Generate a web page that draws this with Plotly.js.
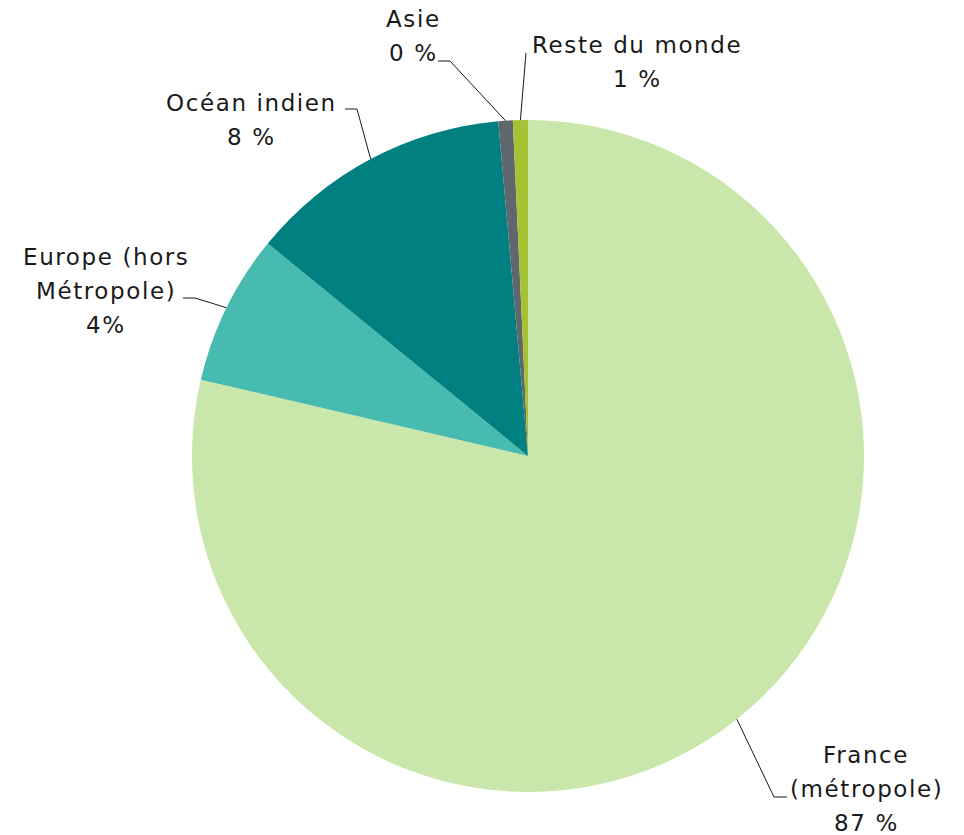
<!DOCTYPE html>
<html>
<head>
<meta charset="utf-8">
<script src="https://cdn.plot.ly/plotly-3.0.1.min.js"></script>
<style>html,body{margin:0;padding:0;background:#fff;}#chart{width:964px;height:835px;}</style>
</head>
<body>
<div id="chart"></div>
<script>
// ---- data ----
const categories = ['France (métropole)', 'Europe (hors Métropole)', 'Océan indien', 'Asie', 'Reste du monde'];
const sliceValues = [78.64, 7.25, 12.69, 0.69, 0.72];
const labelLines = [
  ['France', '(métropole)', '87 %'],
  ['Europe (hors', 'Métropole)', '4%'],
  ['Océan indien', '8 %'],
  ['Asie', '0 %'],
  ['Reste du monde', '1 %']
];
const sliceColors = ['#C9E7AA', '#47BBB0', '#008080', '#5E676E', '#A4C232'];

// ---- layout constants (pixels) ----
const W = 964, H = 835;
const CX = 528, CY = 456, R = 336;
const FONT = 'DejaVu Sans';
const FS = 23;
const LINE_H = 34;
// label block: center x, first-line y
const labelPos = [
  [866, 755], [106, 257], [251, 103], [413, 19], [637, 45]
];
// leader elbow points after the slice edge point
const leaderTail = [
  [[774, 797], [787, 797]],
  [[195, 298], [183, 298]],
  [[357, 109], [345, 109]],
  [[450, 61], [438, 61]],
  [[526, 53]]
];

const px = x => x / W;
const py = y => 1 - y / H;

const total = sliceValues.reduce((a, b) => a + b, 0);
let cum = 0;
const shapes = [];
sliceValues.forEach((v, i) => {
  const mid = (cum + v / 2) / total * 2 * Math.PI;
  cum += v;
  const ex = CX + R * Math.sin(mid);
  const ey = CY - R * Math.cos(mid);
  const pts = [[ex, ey]].concat(leaderTail[i]);
  const path = pts.map((p, k) => (k ? 'L' : 'M') + px(p[0]).toFixed(5) + ',' + py(p[1]).toFixed(5)).join(' ');
  shapes.push({type: 'path', xref: 'paper', yref: 'paper', path: path, line: {color: '#1a1a1a', width: 1}});
});

const annotations = [];
labelLines.forEach((lines, i) => {
  lines.forEach((t, k) => {
    annotations.push({
      text: '<span style="letter-spacing:1.6px">' + t + '</span>',
      showarrow: false, xref: 'paper', yref: 'paper',
      x: px(labelPos[i][0]), y: py(labelPos[i][1] + k * LINE_H),
      xanchor: 'center', yanchor: 'middle',
      font: {family: FONT, size: FS, color: '#1a1a1a'}
    });
  });
});

const trace = {
  type: 'pie',
  labels: categories,
  values: sliceValues,
  sort: false,
  direction: 'clockwise',
  rotation: 0,
  textinfo: 'none',
  hoverinfo: 'skip',
  marker: {colors: sliceColors, line: {width: 0}},
  domain: {x: [px(CX - R), px(CX + R)], y: [py(CY + R), py(CY - R)]},
  showlegend: false
};

Plotly.newPlot('chart', [trace], {
  width: W, height: H,
  margin: {l: 0, r: 0, t: 0, b: 0},
  paper_bgcolor: '#fff',
  showlegend: false,
  shapes: shapes,
  annotations: annotations
}, {displayModeBar: false, staticPlot: true});
</script>
</body>
</html>
